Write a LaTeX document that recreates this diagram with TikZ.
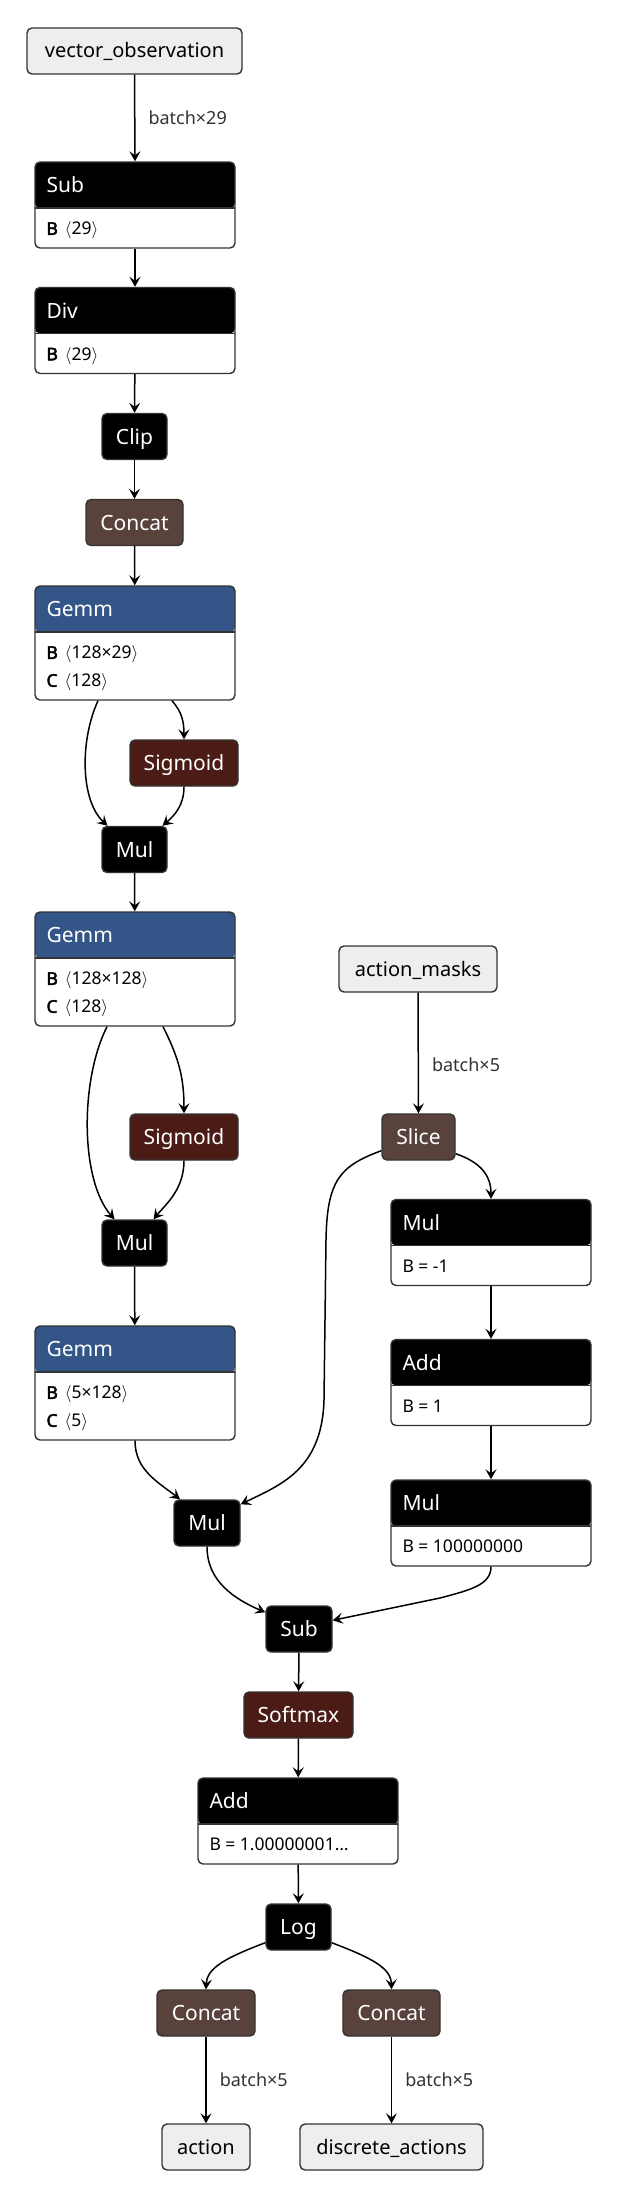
\documentclass[tikz,border=0pt]{standalone}
\usepackage{fontspec}
\setmainfont{Noto Sans}[BoldFont={Noto Sans}, BoldFeatures={FakeBold=2.5}]
\usetikzlibrary{arrows.meta,positioning}
\definecolor{gemmblue}{RGB}{51,85,136}
\definecolor{actred}{RGB}{75,27,22}
\definecolor{tensorbrown}{RGB}{89,66,59}
\definecolor{iogray}{RGB}{238,238,238}
\definecolor{rimgray}{RGB}{51,51,51}
\newcommand{\dims}[1]{$\langle$#1$\rangle$}
\begin{document}
\begin{tikzpicture}[x=1pt,y=-1pt,
    op/.style={draw=rimgray, fill=#1, line width=1.4pt, rounded corners=5pt, minimum height=46pt, inner sep=0pt,
        text height=15pt, text depth=0pt, text=white, font=\fontsize{21}{25}\selectfont},
    op/.default=black,
    io/.style={draw=rimgray, fill=iogray, line width=1.4pt, rounded corners=5pt, minimum height=46pt, inner sep=0pt,
        text height=14pt, text depth=0pt, font=\fontsize{20}{24}\selectfont},
    layer/.style={draw=rimgray, fill=white, line width=1.4pt, rounded corners=5pt, minimum width=200pt, inner sep=0pt,
        path picture={\fill[#1] (path picture bounding box.north west) rectangle ([yshift=-46pt]path picture bounding box.north east);
            \draw[rimgray, line width=1.4pt] ([yshift=-46pt]path picture bounding box.north west) -- ([yshift=-46pt]path picture bounding box.north east);}},
    layer/.default=black,
    title/.style={anchor=west, inner sep=0pt, text height=15pt, text depth=0pt, text=white, font=\fontsize{21}{25}\selectfont},
    attr/.style={anchor=west, inner sep=0pt, text height=12pt, text depth=0pt, font=\fontsize{17.5}{20}\selectfont},
    flow/.style={line width=1.5pt, -{Stealth[length=10pt,width=11pt,inset=4pt]}},
    elabel/.style={anchor=west, inner sep=0pt, text height=13pt, text depth=0pt, text=rimgray, font=\fontsize{18}{22}\selectfont}]
    \useasboundingbox (0,0) rectangle (620,2200);
    \fill[white] (0,0) rectangle (620,2200);

    % observation branch
    \node[io, minimum width=215pt] (vecObs) at (134.5,51) {vector\_observation};
    \node[layer, minimum height=86pt] (subA) at (135,205) {};
    \node[layer, minimum height=86pt] (divA) at (135,330.5) {};
    \node[op, minimum width=65pt] (clipA) at (134.5,436.5) {Clip};
    \node[op=tensorbrown, minimum width=97pt] (concatA) at (134.5,522.5) {Concat};
    \node[layer=gemmblue, minimum height=114pt] (gemmA) at (135,643) {};
    \node[op=actred, minimum width=108pt] (sigA) at (184,763) {Sigmoid};
    \node[op, minimum width=65pt] (mulA) at (134.5,849.5) {Mul};
    \node[layer=gemmblue, minimum height=114pt] (gemmB) at (135,969) {};
    \node[op=actred, minimum width=108pt] (sigB) at (184,1137) {Sigmoid};
    \node[op, minimum width=65pt] (mulB) at (134.5,1243) {Mul};
    \node[layer=gemmblue, minimum height=114pt] (gemmC) at (135,1383) {};
    \node[op, minimum width=66pt] (mulC) at (207,1523) {Mul};

    % mask branch
    \node[io, minimum width=158pt] (actMask) at (418,969) {action\_masks};
    \node[op=tensorbrown, minimum width=73pt] (sliceA) at (418.5,1137) {Slice};
    \node[layer, minimum height=86pt] (mulD) at (491,1242.5) {};
    \node[layer, minimum height=86pt] (addA) at (491,1382.5) {};
    \node[layer, minimum height=86pt] (mulE) at (491,1523) {};

    % head
    \node[op, minimum width=66pt] (subB) at (299,1629) {Sub};
    \node[op=actred, minimum width=109pt] (softmaxA) at (298.5,1715) {Softmax};
    \node[layer, minimum height=86pt] (addB) at (298,1821) {};
    \node[op, minimum width=65pt] (logA) at (298.5,1927) {Log};
    \node[op=tensorbrown, minimum width=98pt] (concatB) at (206,2013) {Concat};
    \node[op=tensorbrown, minimum width=97pt] (concatC) at (391.5,2013) {Concat};
    \node[io, minimum width=88pt] (outAct) at (206,2147) {action};
    \node[io, minimum width=183pt] (outDisc) at (391.5,2147) {discrete\_actions};

    % titles and attributes
    \foreach \n/\t in {subA/Sub, divA/Div, gemmA/Gemm, gemmB/Gemm, gemmC/Gemm, mulD/Mul, addA/Add, mulE/Mul, addB/Add}
        \node[title] (\n-t) at ([xshift=12pt,yshift=-24pt]\n.north west) {\t};
    \foreach \n/\t in {subA/{\textbf{B}\hspace{7pt}\dims{29}}, divA/{\textbf{B}\hspace{7pt}\dims{29}},
            mulD/{B = -1}, addA/{B = 1}, mulE/{B = 100000000}, addB/{B = 1.00000001…}}
        \node[attr] (\n-a) at ([xshift=12pt,yshift=-67.5pt]\n.north west) {\t};
    \foreach \n/\b/\c in {gemmA/128×29/128, gemmB/128×128/128, gemmC/5×128/5} {
        \node[attr] (\n-b) at ([xshift=12pt,yshift=-67.5pt]\n.north west) {\textbf{B}\hspace{7pt}\dims{\b}};
        \node[attr] (\n-c) at ([xshift=12pt,yshift=-95.5pt]\n.north west) {\textbf{C}\hspace{7pt}\dims{\c}};
    }

    % connectors
    \draw[flow] (vecObs.south) -- node[elabel, xshift=13pt] (lblObs) {batch×29} (subA.north);
    \draw[flow] (subA) -- (divA);
    \draw[flow] (divA) -- (clipA);
    \draw[flow] (clipA) -- (concatA);
    \draw[flow] (concatA) -- (gemmA);
    \draw[flow] ([xshift=-37pt]gemmA.south) .. controls (80,740) and (80,800) .. ([xshift=-27pt]mulA.north);
    \draw[flow] ([xshift=37pt]gemmA.south) .. controls (182,712) and (184,722) .. (sigA.north);
    \draw[flow] (sigA.south) .. controls (184,805) and (175,815) .. ([xshift=28pt]mulA.north);
    \draw[flow] (mulA) -- (gemmB);
    \draw[flow] ([xshift=-28pt]gemmB.south) .. controls (80,1080) and (80,1180) .. ([xshift=-20pt]mulB.north);
    \draw[flow] ([xshift=28pt]gemmB.south) .. controls (180,1060) and (184,1080) .. (sigB.north);
    \draw[flow] (sigB.south) .. controls (184,1190) and (165,1205) .. ([xshift=19pt]mulB.north);
    \draw[flow] (mulB) -- (gemmC);
    \draw[flow] (gemmC.south) .. controls (135,1470) and (158,1482) .. ([xshift=-27pt]mulC.north);
    \draw[flow] ([yshift=10pt]sliceA.south west) .. controls (340,1166) and (327,1180) .. (326,1240)
        -- (324,1400) .. controls (322,1470) and (280,1485) .. ([yshift=-5pt]mulC.north east);
    \draw[flow] (actMask.south) -- node[elabel, pos=.6, xshift=13pt] (lblMask) {batch×5} (sliceA.north);
    \draw[flow] ([yshift=7pt]sliceA.south east) .. controls (480,1162) and (491,1175) .. (mulD.north);
    \draw[flow] (mulD) -- (addA);
    \draw[flow] (addA) -- (mulE);
    \draw[flow] (mulC.south) .. controls (207,1575) and (225,1595) .. ([yshift=-7pt]subB.north west);
    \draw[flow] (mulE.south) .. controls (491,1585) and (470,1590) .. (440,1598) -- ([yshift=-15pt]subB.north east);
    \draw[flow] (subB) -- (softmaxA);
    \draw[flow] (softmaxA) -- (addB);
    \draw[flow] (addB) -- (logA);
    \draw[flow] ([yshift=8pt]logA.south west) .. controls (225,1958) and (207,1968) .. (concatB.north);
    \draw[flow] ([yshift=8pt]logA.south east) .. controls (372,1958) and (391,1968) .. (concatC.north);
    \draw[flow] (concatB.south) -- node[elabel, xshift=13pt] (lblAct) {batch×5} (outAct.north);
    \draw[flow] (concatC.south) -- node[elabel, xshift=13pt] (lblDisc) {batch×5} (outDisc.north);
\end{tikzpicture}
\end{document}
